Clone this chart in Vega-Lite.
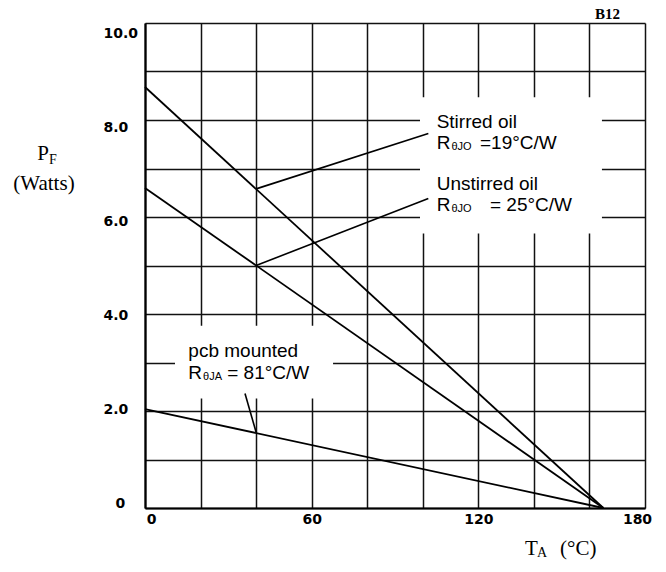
{
  "$schema": "https://vega.github.io/schema/vega-lite/v6.json",
  "width": 500,
  "height": 485,
  "autosize": {"type": "none"},
  "padding": {"left": 145, "top": 23, "right": 21, "bottom": 64},
  "background": "white",
  "view": {"stroke": null},
  "config": {"font": "Liberation Sans"},
  "datasets": {
    "curves": [
      {"series": "stirred", "T": 0, "P": 8.68},
      {"series": "stirred", "T": 165, "P": 0},
      {"series": "unstirred", "T": 0, "P": 6.6},
      {"series": "unstirred", "T": 165, "P": 0},
      {"series": "pcb", "T": 0, "P": 2.04},
      {"series": "pcb", "T": 165, "P": 0}
    ],
    "leaders": [
      {"series": "stirred", "T": 40, "P": 6.58},
      {"series": "stirred", "T": 102, "P": 7.72},
      {"series": "unstirred", "T": 40, "P": 5.0},
      {"series": "unstirred", "T": 102, "P": 6.38},
      {"series": "pcb", "T": 36, "P": 2.36},
      {"series": "pcb", "T": 40, "P": 1.56}
    ],
    "boxes": [
      {"T": 99, "T2": 164.5, "P": 5.66, "P2": 8.47},
      {"T": 10.8, "T2": 67.7, "P": 2.26, "P2": 3.76}
    ],
    "notes": [
      {"T": 105, "P": 7.84, "text": "Stirred oil"},
      {"T": 105, "P": 7.41, "text": "R"},
      {"T": 120.6, "P": 7.41, "text": "=19°C/W"},
      {"T": 105, "P": 6.55, "text": "Unstirred oil"},
      {"T": 105, "P": 6.12, "text": "R"},
      {"T": 124.2, "P": 6.12, "text": "= 25°C/W"},
      {"T": 15.6, "P": 3.11, "text": "pcb mounted"},
      {"T": 15.6, "P": 2.67, "text": "R"},
      {"T": 29.6, "P": 2.67, "text": "= 81°C/W"}
    ],
    "subs": [
      {"T": 110.3, "P": 7.41, "text": "θJO"},
      {"T": 110.3, "P": 6.12, "text": "θJO"},
      {"T": 20.9, "P": 2.67, "text": "θJA"}
    ],
    "titles": [
      {"T": -38.8, "P": 7.17, "text": "P"},
      {"T": -47.4, "P": 6.55, "text": "(Watts)"},
      {"T": 136.8, "P": -0.975, "text": "T"},
      {"T": 149.4, "P": -0.975, "text": "(°C)"}
    ],
    "titlesubs": [
      {"T": -34.6, "P": 7.1, "text": "F"},
      {"T": 141.1, "P": -1.02, "text": "A"}
    ],
    "tag": [
      {"T": 162, "P": 10.09, "text": "B12"}
    ]
  },
  "encoding": {
    "x": {
      "field": "T",
      "type": "quantitative",
      "scale": {"domain": [0, 180], "nice": false, "zero": false},
      "axis": {
        "values": [0, 20, 40, 60, 80, 100, 120, 140, 160, 180],
        "title": null,
        "grid": true,
        "gridColor": "#111",
        "gridWidth": 1.5,
        "domainColor": "#000",
        "domainWidth": 2.2,
        "ticks": false,
        "tickSize": 0,
        "labelExpr": "datum.value % 60 == 0 ? datum.label : ''",
        "labelFont": "DejaVu Sans",
        "labelFontWeight": "bold",
        "labelFontSize": 14,
        "labelColor": "#000",
        "labelBaseline": "middle",
        "labelAlign": "center",
        "labelPadding": 11,
        "labelOverlap": false,
        "labelBound": false,
        "labelFlush": false,
        "labelOffset": {"condition": [{"test": "datum.value == 0", "value": 6}, {"test": "datum.value == 180", "value": -8}], "value": 0}
      }
    },
    "y": {
      "field": "P",
      "type": "quantitative",
      "scale": {"domain": [0, 10], "nice": false, "zero": false},
      "axis": {
        "values": [0, 1, 2, 3, 4, 5, 6, 7, 8, 9, 10],
        "title": null,
        "grid": true,
        "gridColor": "#111",
        "gridWidth": 1.5,
        "domainColor": "#000",
        "domainWidth": 2.2,
        "ticks": false,
        "tickSize": 0,
        "labelExpr": "datum.value % 2 == 0 ? (datum.value == 0 ? '0' : format(datum.value, '.1f')) : ''",
        "labelFont": "DejaVu Sans",
        "labelFontWeight": "bold",
        "labelFontSize": 14,
        "labelColor": "#000",
        "labelBaseline": "middle",
        "labelAlign": "left",
        "labelPadding": {"condition": {"test": "datum.value == 0", "value": 30}, "value": 42},
        "labelOverlap": false,
        "labelBound": false,
        "labelFlush": false,
        "labelOffset": {"condition": [{"test": "datum.value == 10", "value": 10.6}, {"test": "datum.value == 8", "value": 7.5}, {"test": "datum.value == 6", "value": 4.4}, {"test": "datum.value == 4", "value": 1.4}, {"test": "datum.value == 2", "value": -1.7}, {"test": "datum.value == 0", "value": -4.7}], "value": 0}
      }
    }
  },
  "layer": [
    {
      "data": {"name": "boxes"},
      "mark": {"type": "rect", "fill": "white", "stroke": null},
      "encoding": {
        "x2": {"field": "T2"},
        "y2": {"field": "P2"}
      }
    },
    {
      "data": {"name": "curves"},
      "mark": {"type": "line", "color": "#000", "strokeWidth": 1.8},
      "encoding": {"detail": {"field": "series"}}
    },
    {
      "data": {"name": "leaders"},
      "mark": {"type": "line", "color": "#000", "strokeWidth": 1.6},
      "encoding": {"detail": {"field": "series"}}
    },
    {
      "data": {"name": "notes"},
      "mark": {"type": "text", "font": "Liberation Sans", "fontSize": 19, "align": "left", "baseline": "alphabetic", "color": "#000"},
      "encoding": {"text": {"field": "text"}}
    },
    {
      "data": {"name": "subs"},
      "mark": {"type": "text", "font": "Liberation Sans", "fontSize": 11, "align": "left", "baseline": "alphabetic", "dy": 1, "color": "#000"},
      "encoding": {"text": {"field": "text"}}
    },
    {
      "data": {"name": "titles"},
      "mark": {"type": "text", "font": "Liberation Serif", "fontSize": 21, "align": "left", "baseline": "alphabetic", "color": "#000"},
      "encoding": {"text": {"field": "text"}}
    },
    {
      "data": {"name": "titlesubs"},
      "mark": {"type": "text", "font": "Liberation Serif", "fontSize": 14, "align": "left", "baseline": "alphabetic", "color": "#000"},
      "encoding": {"text": {"field": "text"}}
    },
    {
      "data": {"name": "tag"},
      "mark": {"type": "text", "font": "Liberation Serif", "fontSize": 15, "fontWeight": "bold", "align": "left", "baseline": "alphabetic", "color": "#000"},
      "encoding": {"text": {"field": "text"}}
    }
  ]
}
